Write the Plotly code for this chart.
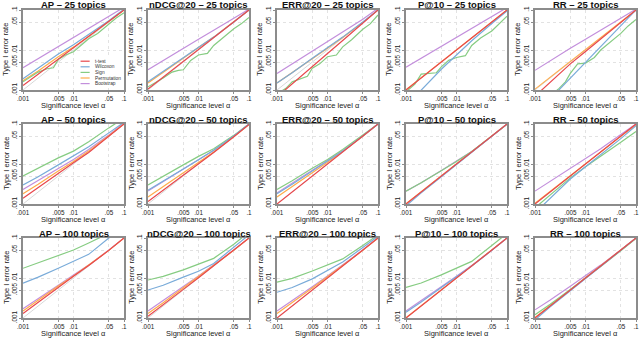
import plotly.graph_objects as go

# significance levels on the x axis
ALPHA = [0.001, 0.002, 0.005, 0.01, 0.02, 0.05, 0.1]
ALPHA_FINE = [0.001, 0.0015, 0.002, 0.003, 0.004, 0.005, 0.007, 0.01,
              0.015, 0.02, 0.03, 0.05, 0.07, 0.1]
EXPECTED = ALPHA

TESTS = ["t-test", "Wilcoxon", "Sign", "Permutation", "Bootstrap"]
COLORS = ["#e8474c", "#79abd9", "#86cc82", "#ffab4a", "#c38fdc"]

MEASURES = ["AP", "nDCG@20", "ERR@20", "P@10", "RR"]
TOPICS = [25, 50, 100]

TICKVALS = [0.001, 0.005, 0.01, 0.05, 0.1]
TICKTEXT = [".001", ".005", ".01", ".05", ".1"]

# type I error rates, order: t-test, Wilcoxon, Sign, Permutation, Bootstrap
AP_25 = [
    [0.0013, 0.0025, 0.0059, 0.0112, 0.021, 0.051, 0.1],
    [0.0019, 0.0035, 0.0079, 0.0135, 0.024, 0.054, 0.105],
    [0.0016, 0.0022, 0.0028, 0.0034, 0.0036, 0.0058, 0.0075, 0.009,
     0.014, 0.019, 0.026, 0.045, 0.063, 0.085],
    [0.0017, 0.003, 0.0068, 0.0118, 0.022, 0.051, 0.1],
    [0.0036, 0.0061, 0.0123, 0.0206, 0.0345, 0.069, 0.117],
]
NDCG_25 = [
    [0.00106, 0.0021, 0.0051, 0.01, 0.02, 0.05, 0.1],
    [0.0016, 0.0029, 0.0066, 0.0118, 0.021, 0.05, 0.1],
    [0.0012, 0.0016, 0.002, 0.0028, 0.0031, 0.0032, 0.0055, 0.0075,
     0.0082, 0.013, 0.02, 0.034, 0.045, 0.065],
    [0.0015, 0.0028, 0.0064, 0.0115, 0.021, 0.05, 0.1],
    [0.0032, 0.0055, 0.011, 0.0185, 0.031, 0.062, 0.105],
]
ERR_25 = [
    [0.00067, 0.0014, 0.0039, 0.0082, 0.0173, 0.047, 0.1],
    [0.0015, 0.0027, 0.0062, 0.0112, 0.021, 0.05, 0.1],
    [0.0008, 0.0011, 0.0016, 0.0019, 0.0022, 0.0035, 0.0045, 0.0068,
     0.0075, 0.012, 0.018, 0.033, 0.045, 0.075],
    [0.0015, 0.0027, 0.0061, 0.011, 0.0205, 0.049, 0.1],
    [0.0026, 0.0045, 0.0094, 0.016, 0.028, 0.059, 0.11],
]
P10_25 = [
    [0.001, 0.002, 0.005, 0.01, 0.02, 0.05, 0.1],
    [0.0004, 0.001, 0.0033, 0.0075, 0.017, 0.046, 0.095],
    [0.0009, 0.0014, 0.0025, 0.0026, 0.0027, 0.0038, 0.0055, 0.0065,
     0.0072, 0.013, 0.02, 0.03, 0.045, 0.07],
    [0.00102, 0.00203, 0.0051, 0.0101, 0.0201, 0.05, 0.1],
    [0.0037, 0.0062, 0.0124, 0.0205, 0.034, 0.068, 0.115],
]
RR_25 = [
    [0.0007, 0.0016, 0.0045, 0.0092, 0.019, 0.049, 0.1],
    [0.00024, 0.00059, 0.00195, 0.0048, 0.012, 0.04, 0.1],
    [0.0003, 0.0005, 0.0007, 0.0011, 0.0016, 0.0026, 0.0045, 0.0047,
     0.0065, 0.01, 0.015, 0.026, 0.04, 0.058],
    [0.00105, 0.0021, 0.0052, 0.0102, 0.0202, 0.05, 0.1],
    [0.0031, 0.0054, 0.011, 0.0185, 0.031, 0.063, 0.105],
]

AP_50 = [
    [0.0014, 0.0026, 0.006, 0.0107, 0.0195, 0.048, 0.1],
    [0.003, 0.0048, 0.0095, 0.016, 0.027, 0.06, 0.11],
    [0.005, 0.0078, 0.0142, 0.021, 0.036, 0.08, 0.14],
    [0.0018, 0.0031, 0.0067, 0.0115, 0.021, 0.05, 0.1],
    [0.0023, 0.0038, 0.0077, 0.013, 0.023, 0.053, 0.105],
]
NDCG_50 = [
    [0.00115, 0.0022, 0.0053, 0.0103, 0.0195, 0.048, 0.097],
    [0.0022, 0.0037, 0.0075, 0.0128, 0.022, 0.05, 0.1],
    [0.003, 0.005, 0.0095, 0.0155, 0.024, 0.052, 0.1],
    [0.0015, 0.0027, 0.0061, 0.011, 0.02, 0.048, 0.097],
    [0.0021, 0.0036, 0.0073, 0.0125, 0.022, 0.05, 0.1],
]
ERR_50 = [
    [0.001, 0.002, 0.0049, 0.0098, 0.0195, 0.049, 0.1],
    [0.0018, 0.0031, 0.0067, 0.0118, 0.021, 0.05, 0.1],
    [0.0023, 0.0038, 0.0078, 0.013, 0.023, 0.052, 0.1],
    [0.0015, 0.0027, 0.006, 0.011, 0.0205, 0.049, 0.1],
    [0.0019, 0.0033, 0.0069, 0.012, 0.0215, 0.05, 0.1],
]
P10_50 = [
    [0.001, 0.002, 0.005, 0.01, 0.02, 0.05, 0.1],
    [0.0009, 0.0019, 0.0048, 0.0098, 0.0195, 0.049, 0.1],
    [0.0021, 0.0034, 0.0068, 0.0115, 0.0205, 0.049, 0.098],
    [0.00101, 0.00201, 0.00502, 0.01, 0.02, 0.05, 0.1],
    [0.0021, 0.0034, 0.0069, 0.0116, 0.0205, 0.049, 0.098],
]
RR_50 = [
    [0.001, 0.002, 0.005, 0.01, 0.02, 0.05, 0.1],
    [0.0006, 0.0014, 0.0042, 0.0085, 0.017, 0.043, 0.09],
    [0.0008, 0.0017, 0.0045, 0.0085, 0.016, 0.035, 0.065],
    [0.00105, 0.0021, 0.0051, 0.0101, 0.02, 0.049, 0.095],
    [0.0021, 0.0037, 0.0078, 0.0135, 0.024, 0.055, 0.1],
]

AP_100 = [
    [0.0013, 0.0025, 0.0058, 0.011, 0.0205, 0.049, 0.1],
    [0.0074, 0.0105, 0.0175, 0.026, 0.039, 0.1, 0.18],
    [0.0175, 0.024, 0.037, 0.05, 0.075, 0.14, 0.2],
    [0.0015, 0.0028, 0.0063, 0.0113, 0.021, 0.049, 0.1],
    [0.0017, 0.003, 0.0066, 0.0118, 0.021, 0.05, 0.1],
]
NDCG_100 = [
    [0.0011, 0.0021, 0.0052, 0.0102, 0.02, 0.049, 0.1],
    [0.005, 0.0066, 0.0105, 0.0148, 0.023, 0.058, 0.12],
    [0.0089, 0.011, 0.016, 0.022, 0.031, 0.07, 0.14],
    [0.0013, 0.0024, 0.0057, 0.0108, 0.0205, 0.049, 0.1],
    [0.0015, 0.0027, 0.0061, 0.0113, 0.021, 0.05, 0.1],
]
ERR_100 = [
    [0.001, 0.002, 0.005, 0.01, 0.02, 0.05, 0.1],
    [0.0044, 0.0058, 0.0095, 0.0155, 0.025, 0.058, 0.11],
    [0.0079, 0.0098, 0.015, 0.021, 0.03, 0.065, 0.12],
    [0.0013, 0.0024, 0.0056, 0.0107, 0.0203, 0.049, 0.1],
    [0.0015, 0.0027, 0.006, 0.0112, 0.021, 0.05, 0.1],
]
P10_100 = [
    [0.001, 0.002, 0.005, 0.01, 0.02, 0.05, 0.1],
    [0.0014, 0.0025, 0.0058, 0.0108, 0.02, 0.049, 0.1],
    [0.0058, 0.0075, 0.012, 0.0175, 0.026, 0.065, 0.13],
    [0.00102, 0.00202, 0.00502, 0.01, 0.02, 0.05, 0.1],
    [0.0015, 0.0027, 0.006, 0.011, 0.0205, 0.049, 0.1],
]
RR_100 = [
    [0.001, 0.002, 0.005, 0.01, 0.02, 0.05, 0.1],
    [0.0009, 0.0019, 0.0048, 0.0097, 0.0195, 0.049, 0.1],
    [0.0012, 0.0022, 0.0052, 0.0099, 0.0195, 0.048, 0.097],
    [0.00103, 0.00205, 0.0051, 0.0101, 0.0201, 0.05, 0.1],
    [0.0016, 0.0028, 0.0062, 0.0112, 0.021, 0.05, 0.1],
]

PANELS = [
    [AP_25, NDCG_25, ERR_25, P10_25, RR_25],
    [AP_50, NDCG_50, ERR_50, P10_50, RR_50],
    [AP_100, NDCG_100, ERR_100, P10_100, RR_100],
]

W, H = 640, 338
LEFTS = [23, 148, 277, 406, 535]
PW = 101
TOPS = [10, 124, 238]
PH = 80
FONT = "Liberation Sans, Arial, sans-serif"
FRAME = "#8c8c8c"


def px(x):
    return x / W


def py(y):
    return 1 - y / H


fig = go.Figure()
annotations = []
shapes = []
draw_order = [4, 3, 2, 1, 0]  # bootstrap at the back, t-test on top

for r, row in enumerate(PANELS):
    for c, panel in enumerate(row):
        n = r * 5 + c + 1
        xa = "x" if n == 1 else f"x{n}"
        ya = "y" if n == 1 else f"y{n}"
        left, top = LEFTS[c], TOPS[r]

        fig.add_trace(go.Scatter(
            x=ALPHA, y=EXPECTED, mode="lines", xaxis=xa, yaxis=ya,
            line=dict(color="#d8d8d8", width=1), showlegend=False,
            hoverinfo="skip"))
        for k in draw_order:
            vals = panel[k]
            xs = ALPHA_FINE if len(vals) == len(ALPHA_FINE) else ALPHA
            fig.add_trace(go.Scatter(
                x=xs, y=vals, mode="lines", xaxis=xa, yaxis=ya,
                name=TESTS[k], line=dict(color=COLORS[k], width=1.2),
                showlegend=False))

        axis_common = dict(
            type="log", range=[-3, -1], tickmode="array",
            tickvals=TICKVALS, ticktext=TICKTEXT, automargin=False,
            showgrid=True, gridcolor="#e2e2e2", griddash="dot", gridwidth=1,
            showline=True, linecolor=FRAME, linewidth=1.5, mirror=True,
            ticks="outside", ticklen=2, tickcolor=FRAME,
            tickfont=dict(family=FONT, size=6.3, color="#222"),
            zeroline=False, fixedrange=True,
        )
        fig.update_layout({
            ("xaxis" if n == 1 else f"xaxis{n}"): dict(
                axis_common, domain=[px(left), px(left + PW)], anchor=ya),
            ("yaxis" if n == 1 else f"yaxis{n}"): dict(
                axis_common, domain=[py(top + PH), py(top)], anchor=xa,
                tickangle=-90),
        })

        # panel title and axis titles
        annotations.append(dict(
            x=px(left + PW / 2), y=py(top - 5), xref="paper", yref="paper",
            xanchor="center", yanchor="middle",
            text=f"<b>{MEASURES[c]} – {TOPICS[r]} topics</b>",
            showarrow=False, font=dict(family=FONT, size=9.5, color="#111")))
        annotations.append(dict(
            x=px(left + PW / 2), y=py(top + PH + 15.5), xref="paper",
            yref="paper", xanchor="center", yanchor="middle",
            text="Significance level α", showarrow=False,
            font=dict(family=FONT, size=7.5, color="#222")))
        annotations.append(dict(
            x=px(left - 17), y=py(top + PH / 2), xref="paper", yref="paper",
            xanchor="center", yanchor="middle",
            text="Type I error rate", textangle=-90, showarrow=False,
            font=dict(family=FONT, size=7.5, color="#222")))

# legend drawn inside the first panel
shapes.append(dict(type="rect", xref="x domain", yref="y domain",
                   x0=0.53, x1=0.985, y0=0.03, y1=0.42,
                   fillcolor="white", line=dict(width=0), layer="above"))
legend_y = [0.36, 0.29, 0.22, 0.15, 0.08]
for k, name in enumerate(TESTS):
    shapes.append(dict(type="line", xref="x domain", yref="y domain",
                       x0=0.57, x1=0.66, y0=legend_y[k], y1=legend_y[k],
                       line=dict(color=COLORS[k], width=1.2), layer="above"))
    annotations.append(dict(
        x=0.69, y=legend_y[k], xref="x domain", yref="y domain", text=name,
        xanchor="left", yanchor="middle", showarrow=False,
        font=dict(family=FONT, size=4.8, color="#333")))

fig.update_layout(
    width=W, height=H, margin=dict(l=0, r=0, t=0, b=0, pad=0),
    paper_bgcolor="white", plot_bgcolor="white", showlegend=False,
    annotations=annotations, shapes=shapes,
)

# the page body has a default 8px margin; drop it so the figure fills the window
fig.write_html("out.html", config={"displayModeBar": False},
               post_script="document.body.style.margin = '0';")
